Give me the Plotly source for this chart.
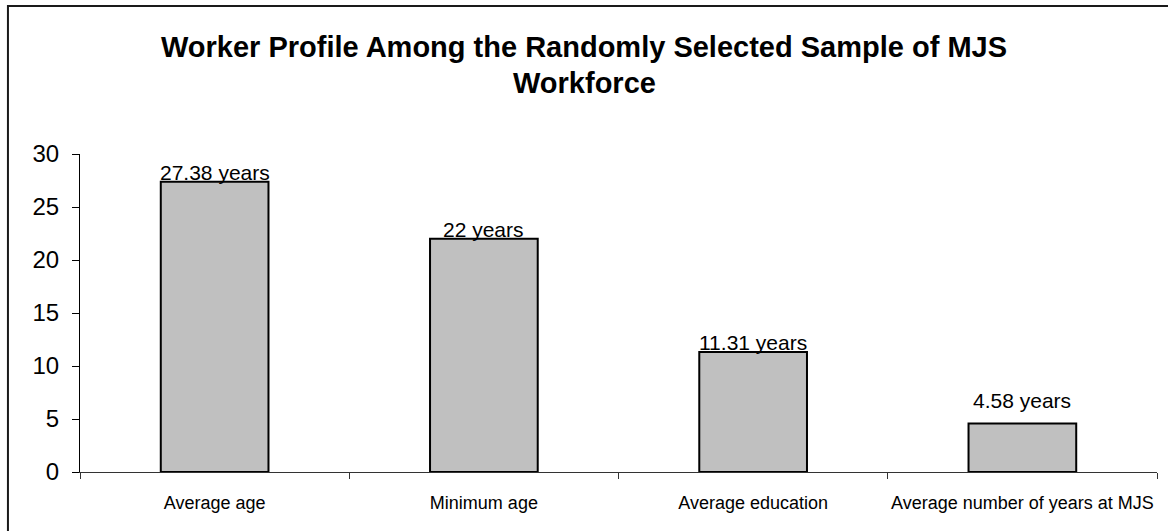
import plotly.graph_objects as go

# Worker profile figures (years)
categories = ["Average age", "Minimum age", "Average education",
              "Average number of years at MJS"]
values = [27.38, 22, 11.31, 4.58]
value_labels = ["27.38 years", "22 years", "11.31 years", "4.58 years"]
y_ticks = [0, 5, 10, 15, 20, 25, 30]
title_lines = ["Worker Profile Among the Randomly Selected Sample of MJS",
               "Workforce"]

FONT = "Liberation Sans, Arial, sans-serif"

fig = go.Figure(
    go.Bar(
        x=categories,
        y=values,
        width=0.4,
        marker=dict(color="#C0C0C0", line=dict(color="#000000", width=2)),
        hoverinfo="skip",
    )
)

# Value labels sitting on top of each bar (last one floats a little higher)
label_shift = [-4, -4, -4, 9]
for cat, val, txt, dy in zip(categories, values, value_labels, label_shift):
    fig.add_annotation(
        x=cat, y=val, text=txt, showarrow=False,
        xanchor="center", yanchor="bottom", yshift=dy,
        font=dict(family=FONT, size=21, color="#000000"),
    )

# Two-line bold heading, each line placed on its own
for line, top_px in zip(title_lines, [47, 83]):
    fig.add_annotation(
        text=f"<b>{line}</b>", showarrow=False,
        xref="paper", yref="paper",
        x=(584 - 80) / 1077, y=(472 - top_px) / 318,
        xanchor="center", yanchor="middle",
        font=dict(family=FONT, size=29, color="#000000"),
    )

# Outer frame around the chart (right and bottom edges run off the page)
fig.add_shape(
    type="rect", xref="paper", yref="paper",
    x0=-0.0669, x1=1.1, y0=-0.35, y1=1.4654,
    line=dict(color="#1a1a1a", width=2), fillcolor="rgba(0,0,0,0)",
    layer="below",
)

fig.update_layout(
    width=1168, height=531,
    margin=dict(l=80, r=11, t=154, b=59, autoexpand=False),
    paper_bgcolor="#ffffff", plot_bgcolor="#ffffff",
    showlegend=False,
    font=dict(family=FONT, color="#000000"),
)

fig.update_xaxes(
    type="category", automargin=False, tickangle=0,
    showline=True, linecolor="#333333", linewidth=1,
    ticks="outside", tickson="boundaries", ticklen=6, tickcolor="#333333",
    showgrid=False, zeroline=False,
    tickfont=dict(family=FONT, size=18, color="#000000"),
    ticklabelstandoff=14,
)
fig.update_yaxes(
    range=[0, 30], tickvals=y_ticks, automargin=False,
    showline=True, linecolor="#000000", linewidth=1,
    ticks="outside", ticklen=7, tickcolor="#000000",
    showgrid=False, zeroline=False,
    tickfont=dict(family=FONT, size=24, color="#000000"),
    ticklabelstandoff=8,
)

fig.write_html("out.html")
